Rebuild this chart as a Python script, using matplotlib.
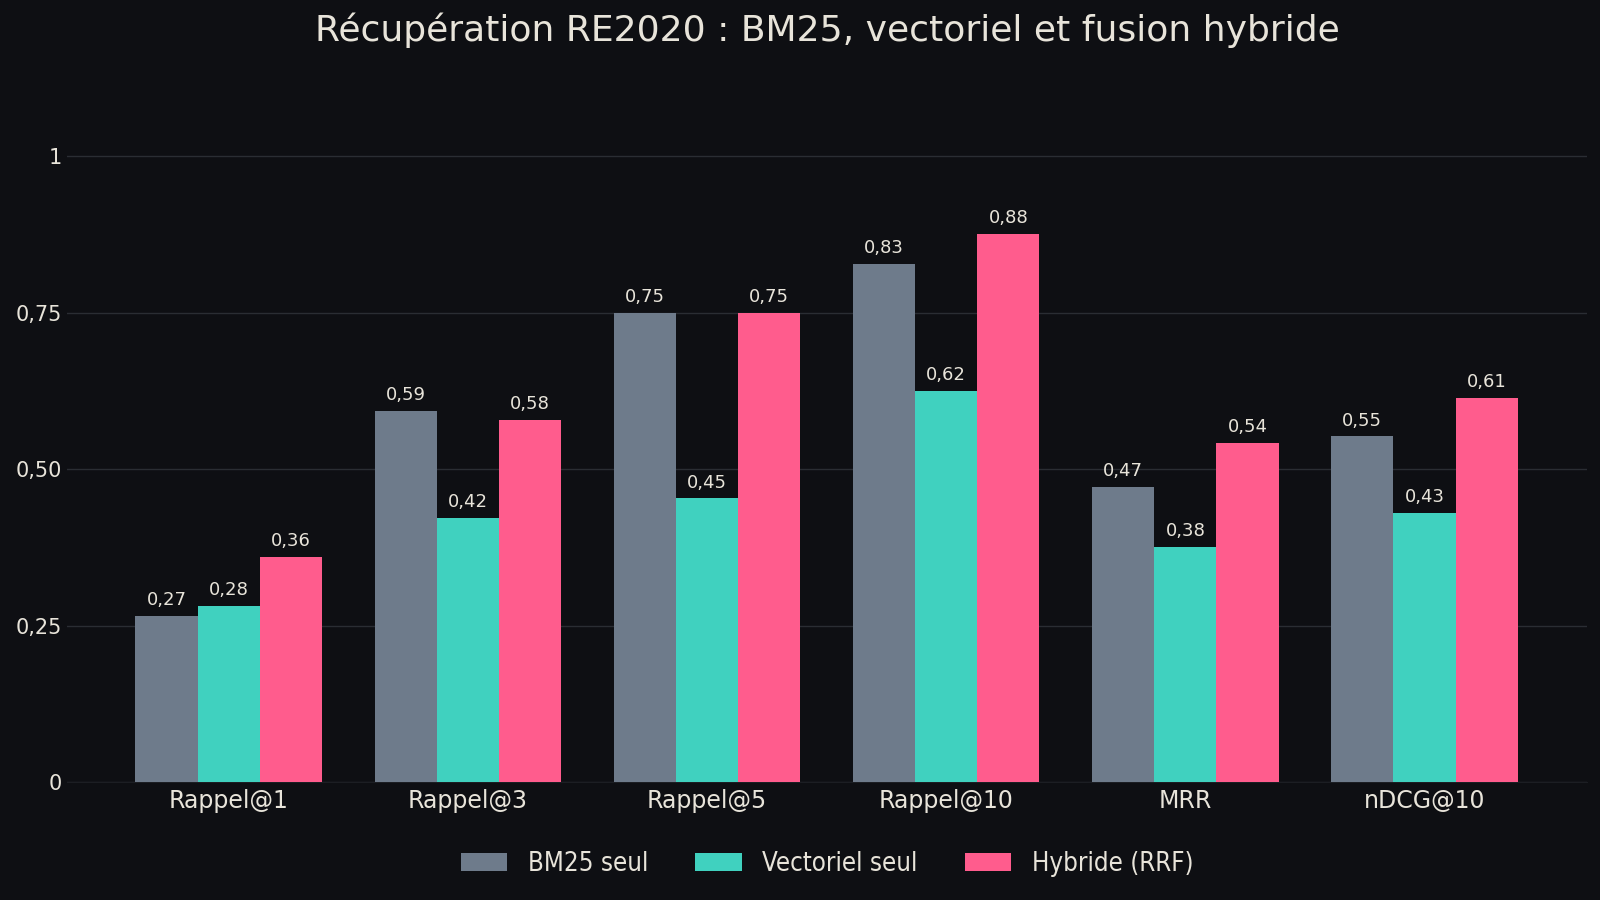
import matplotlib
matplotlib.use("Agg")
import matplotlib.pyplot as plt
import matplotlib.transforms as mtransforms
import numpy as np

# data
categories = ["Rappel@1", "Rappel@3", "Rappel@5", "Rappel@10", "MRR", "nDCG@10"]
bm25 = [0.266, 0.593, 0.750, 0.827, 0.472, 0.552]
vectoriel = [0.282, 0.422, 0.453, 0.624, 0.376, 0.430]
hybride = [0.360, 0.578, 0.750, 0.876, 0.541, 0.614]
series_names = ["BM25 seul", "Vectoriel seul", "Hybride (RRF)"]
yticks = [0, 0.25, 0.5, 0.75, 1]
ytick_labels = ["0", "0,25", "0,50", "0,75", "1"]

bg = "#0e0f13"
txt = "#e8e4da"
colors = ["#6e7b8b", "#40d1bf", "#ff5c8d"]

fig = plt.figure(figsize=(16, 9), dpi=100, facecolor=bg)
ax = fig.add_axes([0.042, 0.131, 0.95, 0.80], facecolor=bg)

x = np.arange(len(categories))
w = 0.26
for i, (vals, name) in enumerate(zip([bm25, vectoriel, hybride], series_names)):
    bars = ax.bar(x + (i - 1) * w, vals, w, color=colors[i], label=name, zorder=3)
    for b, v in zip(bars, vals):
        ax.annotate(f"{v:.2f}".replace(".", ","),
                    xy=(b.get_x() + b.get_width() / 2, v), xytext=(0, 5),
                    textcoords="offset points", ha="center", va="bottom",
                    fontsize=13, color=txt)

ax.set_xlim(-0.675, 5.68)
ax.set_ylim(0, 1.15)
ax.set_yticks(yticks)
ax.set_yticklabels(ytick_labels)
ax.set_xticks(x)
ax.set_xticklabels(categories)
ax.tick_params(axis="x", colors=txt, labelsize=17, length=0, pad=5)
ax.tick_params(axis="y", colors=txt, labelsize=15, length=0, pad=4)
ax.yaxis.grid(True, color="#2a2d33", linewidth=1, zorder=0)
for s in ["top", "right", "left"]:
    ax.spines[s].set_visible(False)
ax.spines["bottom"].set_color("#1c1e23")

# title centred over the axes, not the figure
trans = mtransforms.blended_transform_factory(ax.transAxes, fig.transFigure)
ax.text(0.5, 0.966, "Récupération RE2020 : BM25, vectoriel et fusion hybride",
        transform=trans, fontsize=26, color=txt, ha="center", va="center")

leg = ax.legend(loc="upper center", bbox_to_anchor=(0.5, -0.063), ncol=3,
                frameon=False, prop={"size": 18.5, "stretch": "condensed"},
                handlelength=1.8, handleheight=0.7, columnspacing=1.85)
for t in leg.get_texts():
    t.set_color(txt)

fig.savefig("out.png", dpi=100, facecolor=bg)
